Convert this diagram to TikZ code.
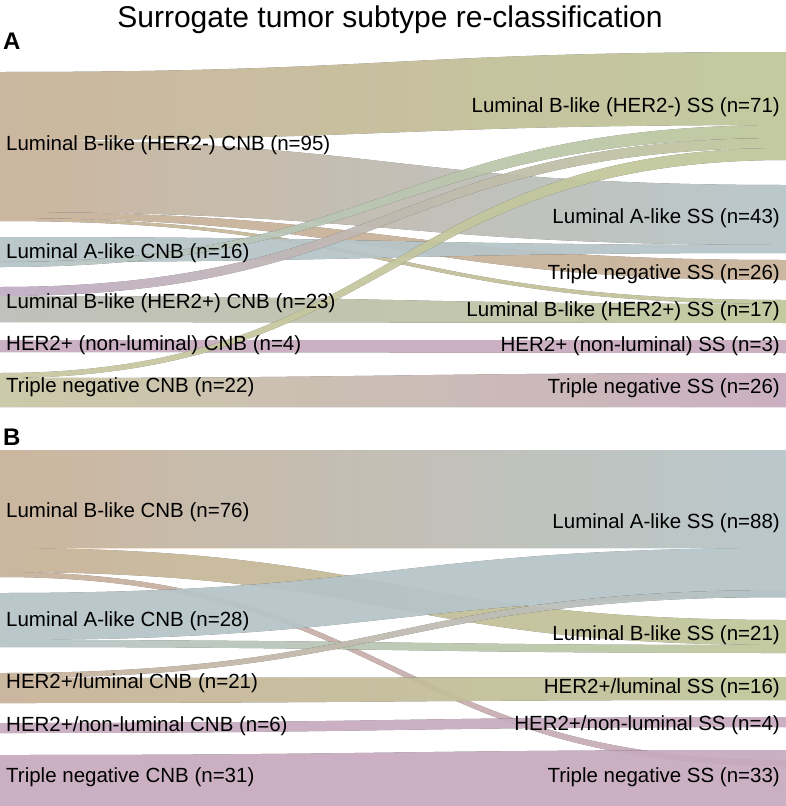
\documentclass[tikz,border=0pt]{standalone}
\usepackage{fontspec}
\setmainfont{Liberation Sans}
\usepackage{tikz}
\usetikzlibrary{positioning}
\definecolor{corange}{HTML}{F8C48C}
\definecolor{cgreen}{HTML}{E2F58E}
\definecolor{ccyan}{HTML}{CDEFF8}
\definecolor{cpurple}{HTML}{E6B8F2}
\definecolor{cpink}{HTML}{F6B4E2}
\definecolor{cyellow}{HTML}{FAF3A0}
\definecolor{cgrey}{HTML}{DCDCD0}
\tikzset{lab/.style={font=\fontsize{20.5}{22}\selectfont, inner sep=0pt},
         left lab/.style={lab, anchor=west},
         right lab/.style={lab, anchor=east}}
% band from left (top,bottom) to right (top,bottom)
\newcommand\band[6]{\fill[left color=#5!55!white, right color=#6!55!white, opacity=.75]
  (0,#1) .. controls (393,#1) and (393,#3) .. (786,#3) -- (786,#4)
  .. controls (393,#4) and (393,#2) .. (0,#2) -- cycle;}

\begin{document}
\begin{tikzpicture}[x=1pt, y=-1pt]
            \useasboundingbox (0,0) rectangle (786,806);
            \node[font=\fontsize{30}{32}\selectfont] (title) at (390,20) {Surrogate tumor subtype re-classification};
            \node[font=\fontsize{24}{26}\selectfont\bfseries, anchor=west, inner sep=0pt] (pa) at (3,41) {A};
            \node[font=\fontsize{24}{26}\selectfont\bfseries, anchor=west, inner sep=0pt] (pb) at (3,437) {B};

            % panel A
            \band{72}{140}{52}{125}{corange}{cgreen}
            \band{140}{212}{185}{245}{corange}{ccyan}
            \band{212}{218}{260}{280}{corange}{corange}
            \band{218}{221}{300}{304}{corange}{cgreen}
            \band{237}{262}{245}{253}{ccyan}{ccyan}
            \band{262}{267}{125}{138}{ccyan}{cgreen}
            \band{287}{296}{138}{148}{cpurple}{cgreen}
            \band{296}{322}{304}{323}{cgrey}{cgreen}
            \band{340}{352}{340}{353}{cpink}{cpink}
            \band{373}{378}{148}{160}{cyellow}{cgreen}
            \band{378}{407}{373}{407}{cyellow}{cpink}

            \node[left lab] (a1) at (6,145) {Luminal B-like (HER2-) CNB (n=95)};
            \node[left lab] (a2) at (6,253) {Luminal A-like CNB (n=16)};
            \node[left lab] (a3) at (6,303) {Luminal B-like (HER2+) CNB (n=23)};
            \node[left lab] (a4) at (6,345) {HER2+ (non-luminal) CNB (n=4)};
            \node[left lab] (a5) at (6,387) {Triple negative CNB (n=22)};
            \node[right lab] (s1) at (780,107) {Luminal B-like (HER2-) SS (n=71)};
            \node[right lab] (s2) at (780,218) {Luminal A-like SS (n=43)};
            \node[right lab] (s3) at (780,274) {Triple negative SS (n=26)};
            \node[right lab] (s4) at (780,311) {Luminal B-like (HER2+) SS (n=17)};
            \node[right lab] (s5) at (780,346) {HER2+ (non-luminal) SS (n=3)};
            \node[right lab] (s6) at (780,388) {Triple negative SS (n=26)};

            % panel B
            \band{450}{548}{450}{548}{corange}{ccyan}
            \band{548}{572}{620}{645}{corange}{cgreen}
            \band{572}{577}{760}{766}{corange}{cpink}
            \band{593}{640}{548}{597}{ccyan}{ccyan}
            \band{640}{647}{645}{653}{ccyan}{cgreen}
            \band{673}{678}{590}{597}{corange}{ccyan}
            \band{678}{703}{677}{700}{corange}{cgreen}
            \band{723}{733}{717}{727}{cpink}{cpink}
            \band{755}{806}{750}{806}{cpink}{cpink}

            \node[left lab] (b1) at (6,512) {Luminal B-like CNB (n=76)};
            \node[left lab] (b2) at (6,621) {Luminal A-like CNB (n=28)};
            \node[left lab] (b3) at (6,683) {HER2+/luminal CNB (n=21)};
            \node[left lab] (b4) at (6,726) {HER2+/non-luminal CNB (n=6)};
            \node[left lab] (b5) at (6,777) {Triple negative CNB (n=31)};
            \node[right lab] (t1) at (780,523) {Luminal A-like SS (n=88)};
            \node[right lab] (t2) at (780,635) {Luminal B-like SS (n=21)};
            \node[right lab] (t3) at (780,688) {HER2+/luminal SS (n=16)};
            \node[right lab] (t4) at (780,725) {HER2+/non-luminal SS (n=4)};
            \node[right lab] (t5) at (780,777) {Triple negative SS (n=33)};
        \end{tikzpicture}
\end{document}
